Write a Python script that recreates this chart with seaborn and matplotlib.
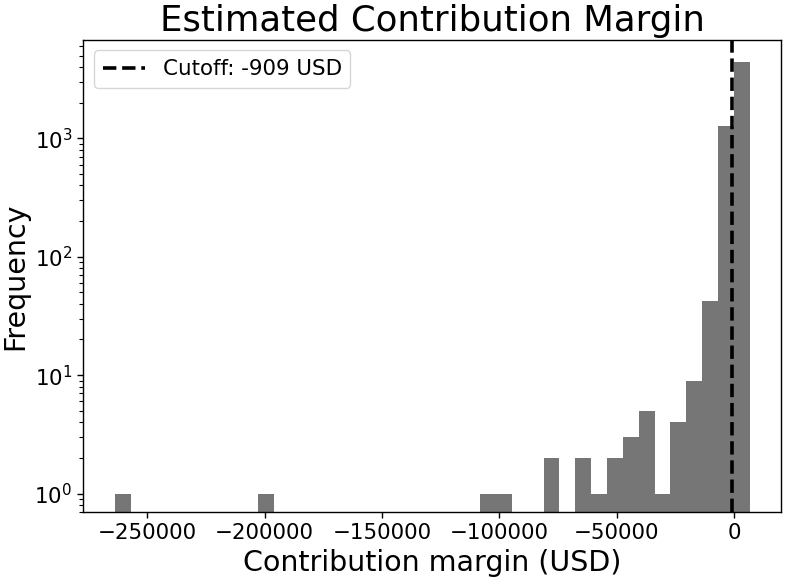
import numpy as np
import pandas as pd
import seaborn as sns
import matplotlib.pyplot as plt

# Histogram: 40 equal bins
bin_start = -263700
bin_end = 6700
n_bins = 40
counts = [1, 0, 0, 0, 0, 0, 0, 0, 0, 1,
          0, 0, 0, 0, 0, 0, 0, 0, 0, 0,
          0, 0, 0, 1, 1, 0, 0, 2, 0, 2,
          1, 2, 3, 5, 1, 4, 9, 42, 1270, 4450]
cutoff = -909

edges = np.linspace(bin_start, bin_end, n_bins + 1)
df = pd.DataFrame({"margin": (edges[:-1] + edges[1:]) / 2, "count": counts})

fig, ax = plt.subplots(figsize=(7.87, 5.85), dpi=100)
fig.subplots_adjust(left=0.106, right=0.993, top=0.932, bottom=0.125)

sns.histplot(data=df, x="margin", weights="count", bins=n_bins,
             binrange=(bin_start, bin_end),
             color="#767676", alpha=1, linewidth=0, ax=ax)
ax.set_yscale("log")
ax.axvline(cutoff, color="black", linestyle="--", linewidth=2.6,
           label=f"Cutoff: {cutoff} USD")

ax.set_xlim(-277200, 20200)
ax.set_ylim(0.7, 6800)
ax.set_title("Estimated Contribution Margin", fontsize=25.6)
ax.set_xlabel("Contribution margin (USD)", fontsize=20.5)
ax.set_ylabel("Frequency", fontsize=20.5)
ax.tick_params(axis="both", which="major", labelsize=15.4, length=4.5, width=1)
ax.tick_params(axis="both", which="minor", length=2.6, width=0.8)
for s in ax.spines.values():
    s.set_linewidth(1)
ax.legend(loc="upper left", fontsize=15.4)

plt.savefig("out.png", dpi=100)
